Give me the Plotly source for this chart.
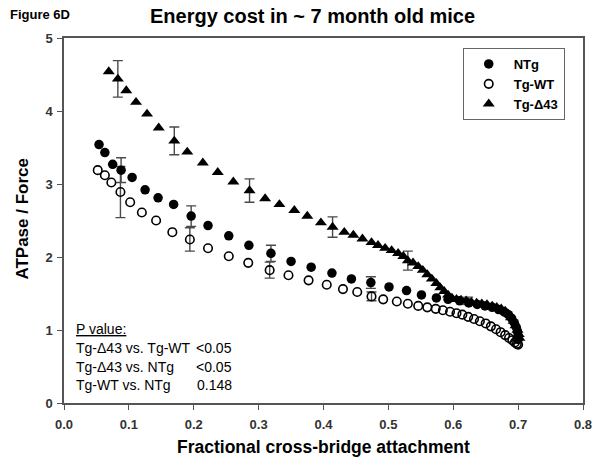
import plotly.graph_objects as go

# ---------------- data ----------------
tg43_x = [0.069, 0.083, 0.096, 0.111, 0.128, 0.146, 0.170, 0.190, 0.214, 0.237, 0.261, 0.286,
          0.310, 0.332, 0.355, 0.375, 0.396, 0.414, 0.432, 0.446, 0.460, 0.474, 0.484, 0.495,
          0.505, 0.515, 0.523, 0.530, 0.538, 0.546, 0.553, 0.560, 0.567, 0.574, 0.580, 0.586,
          0.592, 0.598, 0.605, 0.612, 0.620, 0.628, 0.636, 0.644, 0.652, 0.660, 0.667, 0.674,
          0.680, 0.685, 0.689, 0.693, 0.696, 0.699, 0.701, 0.702]
tg43_y = [4.54, 4.44, 4.28, 4.12, 3.96, 3.77, 3.59, 3.44, 3.29, 3.16, 3.03, 2.91,
          2.80, 2.72, 2.64, 2.56, 2.47, 2.41, 2.34, 2.30, 2.25, 2.20, 2.16, 2.12,
          2.09, 2.05, 2.01, 1.95, 1.92, 1.87, 1.82, 1.76, 1.70, 1.64, 1.58, 1.53,
          1.48, 1.44, 1.42, 1.41, 1.40, 1.38, 1.37, 1.36, 1.35, 1.33, 1.31, 1.29,
          1.26, 1.22, 1.17, 1.12, 1.06, 1.00, 0.94, 0.89]

ntg_x = [0.054, 0.063, 0.075, 0.088, 0.105, 0.125, 0.145, 0.169, 0.196, 0.222, 0.254, 0.285,
         0.319, 0.350, 0.381, 0.413, 0.443, 0.473, 0.501, 0.528, 0.551, 0.574, 0.592, 0.610,
         0.624, 0.637, 0.649, 0.660, 0.670, 0.678, 0.685, 0.690, 0.694, 0.697, 0.699, 0.700, 0.700]
ntg_y = [3.54, 3.43, 3.27, 3.19, 3.09, 2.92, 2.81, 2.72, 2.56, 2.43, 2.29, 2.16,
         2.05, 1.94, 1.86, 1.78, 1.70, 1.65, 1.59, 1.54, 1.48, 1.44, 1.42, 1.40,
         1.37, 1.35, 1.33, 1.31, 1.28, 1.25, 1.21, 1.16, 1.10, 1.04, 0.98, 0.92, 0.87]

tgwt_x = [0.052, 0.063, 0.073, 0.087, 0.102, 0.120, 0.142, 0.167, 0.194, 0.222, 0.254, 0.284,
          0.317, 0.346, 0.377, 0.405, 0.430, 0.452, 0.474, 0.492, 0.513, 0.530, 0.546, 0.560,
          0.573, 0.584, 0.595, 0.605, 0.614, 0.623, 0.632, 0.641, 0.650, 0.658, 0.666, 0.673,
          0.680, 0.686, 0.691, 0.695, 0.698, 0.700]
tgwt_y = [3.19, 3.12, 3.02, 2.89, 2.75, 2.61, 2.50, 2.34, 2.24, 2.12, 2.01, 1.92,
          1.82, 1.75, 1.68, 1.62, 1.56, 1.52, 1.46, 1.42, 1.39, 1.36, 1.33, 1.31,
          1.29, 1.27, 1.25, 1.23, 1.21, 1.18, 1.15, 1.12, 1.09, 1.05, 1.01, 0.97,
          0.93, 0.89, 0.86, 0.83, 0.81, 0.80]

# error bars (SEM) at selected points
tg43_err_x = [0.083, 0.170, 0.286, 0.414, 0.530, 0.623]
tg43_err_y = [4.44, 3.59, 2.91, 2.41, 1.95, 1.40]
tg43_err = [0.25, 0.19, 0.16, 0.14, 0.13, 0.05]

ntg_err_x = [0.088, 0.196, 0.319, 0.473]
ntg_err_y = [3.19, 2.56, 2.05, 1.65]
ntg_err = [0.17, 0.14, 0.11, 0.08]

tgwt_err_x = [0.087, 0.194, 0.317, 0.474]
tgwt_err_y = [2.89, 2.24, 1.82, 1.46]
tgwt_err = [0.35, 0.16, 0.11, 0.06]

x_ticks = [0.0, 0.1, 0.2, 0.3, 0.4, 0.5, 0.6, 0.7, 0.8]
y_ticks = [0, 1, 2, 3, 4, 5]

pvalue_labels = ["Tg-\u039443 vs. Tg-WT", "Tg-\u039443 vs. NTg", "Tg-WT vs. NTg"]
pvalue_values = ["<0.05", "<0.05", "0.148"]

# ---------------- figure ----------------
FONT = "Arial, Liberation Sans, sans-serif"
W, H = 600, 469
L, R, T, B = 63.5, 16.5, 38, 66
PW, PH = W - L - R, H - T - B


def px(xp):
    return (xp - L) / PW


def py(yp):
    return (H - B - yp) / PH


err_style = dict(type="data", visible=True, color="#4a4a4a", thickness=1.4, width=5)

fig = go.Figure()

for ex, ey, ee in [(tgwt_err_x, tgwt_err_y, tgwt_err),
                   (ntg_err_x, ntg_err_y, ntg_err),
                   (tg43_err_x, tg43_err_y, tg43_err)]:
    fig.add_trace(go.Scatter(x=ex, y=ey, mode="markers", showlegend=False,
                             marker=dict(size=0.1, color="rgba(0,0,0,0)"),
                             error_y=dict(array=ee, **err_style), hoverinfo="skip"))

fig.add_trace(go.Scatter(x=ntg_x, y=ntg_y, mode="markers", name="NTg",
                         marker=dict(symbol="circle", size=9.5, color="black")))
fig.add_trace(go.Scatter(x=tgwt_x, y=tgwt_y, mode="markers", name="Tg-WT",
                         marker=dict(symbol="circle-open", size=8.5, color="black",
                                     line=dict(width=1.6, color="black"))))
fig.add_trace(go.Scatter(x=tg43_x, y=tg43_y, mode="markers", name="Tg-\u039443",
                         marker=dict(symbol="triangle-up", size=10.5, color="black")))

axis_common = dict(showline=True, linecolor="#555", linewidth=1.5, mirror=True,
                   ticks="outside", ticklen=5, tickcolor="#555", tickwidth=1.2,
                   showgrid=False, zeroline=False, automargin=False,
                   tickfont=dict(family=FONT, size=13, color="#333", weight="bold"))

fig.update_layout(
    width=W, height=H,
    margin=dict(l=L, r=R, t=T, b=B, autoexpand=False),
    paper_bgcolor="white", plot_bgcolor="white",
    font=dict(family=FONT, color="black"),
    xaxis=dict(range=[0, 0.8], tickvals=x_ticks, ticktext=[f"{v:.1f}" for v in x_ticks],
               ticklabelstandoff=4, **axis_common),
    yaxis=dict(range=[0, 5], tickvals=y_ticks, ticktext=[str(v) for v in y_ticks],
               ticklabelstandoff=2, **axis_common),
    legend=dict(x=px(463), y=py(48), xanchor="left", yanchor="top",
                bgcolor="white", bordercolor="#666", borderwidth=1,
                font=dict(family=FONT, size=13, color="black", weight="bold"),
                itemwidth=40, tracegroupgap=0),
    showlegend=True,
)

ann = []
ann.append(dict(text="<b>Figure 6D</b>", x=7, y=15,
                showarrow=False, xanchor="left", yanchor="middle",
                font=dict(family="Liberation Sans Narrow, Arial Narrow, Arial", size=13)))
ann.append(dict(text="<b>Energy cost in ~ 7 month old mice</b>", x=312, y=16,
                showarrow=False, xanchor="center", yanchor="middle",
                font=dict(family=FONT, size=20)))
ann.append(dict(text="<b>Fractional cross-bridge attachment</b>", x=324, y=447,
                showarrow=False, xanchor="center", yanchor="middle",
                font=dict(family=FONT, size=17.5)))
ann.append(dict(text="<b>ATPase / Force</b>", x=21, y=219, textangle=-90,
                showarrow=False, xanchor="center", yanchor="middle",
                font=dict(family=FONT, size=17)))
ann.append(dict(text="<u>P value:</u>", x=74, y=329, showarrow=False,
                xanchor="left", yanchor="middle", font=dict(family=FONT, size=14)))
for i, (lab, val) in enumerate(zip(pvalue_labels, pvalue_values)):
    yy = 348 + i * 18.5
    ann.append(dict(text=lab, x=74, y=yy, showarrow=False, xanchor="left",
                    yanchor="middle", font=dict(family=FONT, size=14)))
    ann.append(dict(text=val, x=234, y=yy, showarrow=False, xanchor="right",
                    yanchor="middle", font=dict(family=FONT, size=14)))

for a in ann:
    a["x"] = px(a["x"])
    a["y"] = py(a["y"])
    a["xref"] = "paper"
    a["yref"] = "paper"

fig.update_layout(annotations=ann)

fig.write_html("out.html", config={"displayModeBar": False},
               post_script="document.body.style.margin='0';document.body.style.overflow='hidden';")
